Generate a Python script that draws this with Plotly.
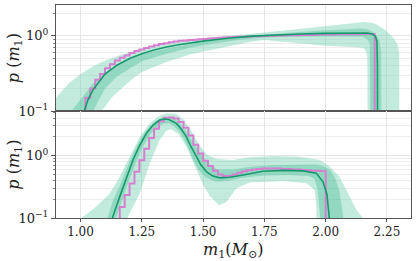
import numpy as np
import plotly.graph_objects as go
from plotly.subplots import make_subplots

# ---------------- data ----------------
# TOP PANEL ------------------------------------------------------
top_hist_lo, top_hist_w = 1.00, 0.02
top_hist = [0.05, 0.15, 0.20, 0.26, 0.31, 0.37, 0.42, 0.47, 0.51, 0.55,
            0.59, 0.63, 0.66, 0.69, 0.72, 0.75, 0.78, 0.80, 0.82, 0.84,
            0.86, 0.87, 0.88, 0.89, 0.90,
            0.91, 0.92, 0.93, 0.94, 0.95, 0.96, 0.965, 0.97, 0.975, 0.98,
            0.985, 0.99, 0.995, 1.0, 1.0, 1.01, 1.01, 1.02, 1.02, 1.02,
            1.03, 1.03, 1.03, 1.04, 1.04, 1.04, 1.04, 1.05, 1.05, 1.05,
            1.05, 1.05, 1.06, 1.06, 1.06]

top_med_m = [1.00, 1.015, 1.03, 1.05, 1.10, 1.15, 1.20, 1.25, 1.30, 1.35, 1.40,
             1.50, 1.60, 1.70, 1.80, 1.90, 2.00, 2.10, 2.17, 2.19, 2.203,
             2.209, 2.211, 2.212]
top_med_p = [0.07, 0.10, 0.14, 0.19, 0.31, 0.41, 0.50, 0.58, 0.65, 0.71, 0.76,
             0.85, 0.93, 0.99, 1.03, 1.06, 1.08, 1.09, 1.09, 1.06, 0.98,
             0.85, 0.40, 0.02]

top_o_up_m = [0.86, 0.90, 0.95, 1.00, 1.05, 1.10, 1.15, 1.25, 1.35, 1.45, 1.55,
              1.65, 1.75, 1.85, 1.95, 2.05, 2.12, 2.155, 2.185, 2.21, 2.235,
              2.26, 2.28, 2.293, 2.300, 2.301]
top_o_up_p = [0.10, 0.15, 0.23, 0.31, 0.39, 0.47, 0.54, 0.68, 0.80, 0.89, 0.96,
              1.04, 1.12, 1.20, 1.29, 1.40, 1.49, 1.53, 1.51, 1.40, 1.24,
              1.07, 0.90, 0.77, 0.58, 0.02]
top_o_lo_m = [1.086, 1.13, 1.20, 1.25, 1.35, 1.45, 1.53, 1.60, 1.70, 1.75,
              1.80, 1.90, 2.00, 2.10, 2.14, 2.158, 2.166, 2.170, 2.171]
top_o_lo_p = [0.10, 0.155, 0.25, 0.33, 0.45, 0.57, 0.65, 0.73, 0.84, 0.88,
              0.86, 0.79, 0.74, 0.71, 0.70, 0.68, 0.60, 0.52, 0.02]

top_i_up_m = [0.963, 1.01, 1.05, 1.10, 1.16, 1.25, 1.35, 1.45, 1.53, 1.60,
              1.70, 1.75, 1.85, 1.95, 2.05, 2.14, 2.17, 2.193, 2.21, 2.22,
              2.226, 2.228]
top_i_up_p = [0.10, 0.16, 0.23, 0.32, 0.43, 0.57, 0.68, 0.78, 0.85, 0.92,
              1.00, 1.04, 1.10, 1.16, 1.21, 1.25, 1.22, 1.13, 0.98, 0.86,
              0.62, 0.02]
top_i_lo_m = [1.051, 1.10, 1.15, 1.25, 1.35, 1.45, 1.55, 1.65, 1.75, 1.85,
              1.95, 2.05, 2.15, 2.172, 2.18, 2.183, 2.184]
top_i_lo_p = [0.10, 0.20, 0.29, 0.46, 0.58, 0.70, 0.80, 0.89, 0.95, 0.97,
              0.98, 0.98, 0.97, 0.89, 0.78, 0.68, 0.02]

# BOTTOM PANEL ---------------------------------------------------
bot_hist_lo, bot_hist_w = 1.00, 0.02
bot_hist = [0.01, 0.01, 0.01, 0.01, 0.01, 0.01, 0.01, 0.01,
            0.15, 0.233, 0.357, 0.55, 0.84, 1.29, 1.92, 2.70, 3.55, 4.05,
            4.10, 3.95, 3.45, 2.80, 2.10, 1.50, 1.08, 0.83, 0.68, 0.57,
            0.50, 0.47, 0.47, 0.50, 0.53, 0.56, 0.58, 0.60, 0.61, 0.62,
            0.62, 0.62, 0.62, 0.61, 0.61, 0.60, 0.60, 0.59, 0.58, 0.57,
            0.57, 0.56]

bot_med_m = [1.10, 1.13, 1.16, 1.188, 1.214, 1.242, 1.269, 1.296, 1.323,
             1.344, 1.36, 1.391, 1.41, 1.432, 1.45, 1.473, 1.49, 1.514, 1.54,
             1.568, 1.609, 1.663, 1.744, 1.826, 1.907, 1.962, 1.989, 2.005,
             2.019, 2.025]
bot_med_p = [0.06, 0.10, 0.22, 0.46, 0.85, 1.48, 2.28, 3.09, 3.72,
             3.86, 3.80, 3.29, 2.70, 2.00, 1.40, 0.96, 0.72, 0.55, 0.47,
             0.44, 0.45, 0.49, 0.56, 0.58, 0.57, 0.52, 0.38, 0.24,
             0.10, 0.04]

bot_o_up_m = [0.98, 1.004, 1.065, 1.12, 1.16, 1.20, 1.242, 1.283, 1.323,
              1.35, 1.39, 1.42, 1.446, 1.486, 1.514, 1.554, 1.62, 1.69,
              1.785, 1.894, 1.976, 2.016, 2.057, 2.098, 2.125, 2.152, 2.17]
bot_o_up_p = [0.07, 0.10, 0.153, 0.25, 0.46, 0.96, 2.00, 3.29, 4.40,
              4.75, 4.70, 3.80, 2.74, 1.45, 1.05, 0.88, 0.85, 0.94,
              0.99, 0.96, 0.85, 0.67, 0.46, 0.22, 0.136, 0.10, 0.07]
bot_o_lo_m = [1.185, 1.242, 1.283, 1.323, 1.35, 1.37, 1.40, 1.432, 1.473,
              1.50, 1.53, 1.565, 1.595, 1.636, 1.69, 1.826, 1.921, 1.955,
              1.962, 1.964]
bot_o_lo_p = [0.09, 0.25, 0.76, 1.78, 2.50, 2.65, 2.20, 1.39, 0.59,
              0.34, 0.22, 0.16, 0.18, 0.30, 0.37, 0.39, 0.36, 0.28,
              0.16, 0.04]

bot_i_up_m = [1.08, 1.11, 1.13, 1.16, 1.19, 1.22, 1.25, 1.28, 1.31, 1.34,
              1.37, 1.40, 1.43, 1.46, 1.49, 1.52, 1.56, 1.62, 1.70, 1.80,
              1.90, 1.96, 1.99, 2.02, 2.04, 2.055, 2.065, 2.072, 2.075]
bot_i_up_p = [0.07, 0.10, 0.18, 0.33, 0.65, 1.20, 2.00, 2.90, 3.70, 4.20,
              4.10, 3.50, 2.50, 1.60, 1.05, 0.75, 0.60, 0.60, 0.67, 0.71,
              0.72, 0.72, 0.68, 0.58, 0.42, 0.28, 0.16, 0.10, 0.04]
bot_i_lo_m = [1.145, 1.175, 1.20, 1.23, 1.255, 1.285, 1.31, 1.34, 1.36,
              1.38, 1.40, 1.42, 1.44, 1.46, 1.48, 1.51, 1.55, 1.60, 1.66,
              1.75, 1.85, 1.93, 1.955, 1.967, 1.974, 1.978, 1.98]
bot_i_lo_p = [0.10, 0.22, 0.42, 0.85, 1.40, 2.20, 2.80, 3.25, 3.30,
              3.00, 2.50, 1.90, 1.30, 0.85, 0.60, 0.45, 0.38, 0.39, 0.44,
              0.48, 0.49, 0.47, 0.42, 0.28, 0.15, 0.10, 0.04]

x_ticks = [1.00, 1.25, 1.50, 1.75, 2.00, 2.25]
x_ticklabels = ["1.00", "1.25", "1.50", "1.75", "2.00", "2.25"]
y_ticks = [0.1, 1]
y_ticklabels = ["10<sup>−1</sup>", "10<sup>0</sup>"]
y_minor = [0.2, 0.3, 0.4, 0.5, 0.6, 0.7, 0.8, 0.9, 2, 3, 4, 5]

# ---------------- styles ----------------
C_OUT = "rgba(102,204,170,0.40)"
C_IN = "rgba(60,180,140,0.35)"
C_MED = "#17996e"
C_HIST = "#d67ed0"
FONT = "DejaVu Serif"
TXT = "#222222"

fig = make_subplots(rows=2, cols=1, shared_xaxes=True, vertical_spacing=0.0)


def band(row, um, up, lm, lp, color):
    fig.add_trace(go.Scatter(x=list(um) + list(lm)[::-1],
                             y=list(up) + list(lp)[::-1],
                             mode="lines", line=dict(width=0),
                             fill="toself", fillcolor=color,
                             hoverinfo="skip", showlegend=False),
                  row=row, col=1)


def hist(row, lo, w, vals):
    edges = [round(lo + w * k, 4) for k in range(len(vals) + 1)]
    fig.add_trace(go.Scatter(x=edges, y=list(vals) + [0.001],
                             mode="lines", line=dict(shape="hv", color=C_HIST, width=2),
                             showlegend=False), row=row, col=1)


band(1, top_o_up_m, top_o_up_p, top_o_lo_m, top_o_lo_p, C_OUT)
band(1, top_i_up_m, top_i_up_p, top_i_lo_m, top_i_lo_p, C_IN)
hist(1, top_hist_lo, top_hist_w, top_hist)
fig.add_trace(go.Scatter(x=top_med_m, y=top_med_p, mode="lines",
                         line=dict(color=C_MED, width=1.6), showlegend=False), row=1, col=1)

band(2, bot_o_up_m, bot_o_up_p, bot_o_lo_m, bot_o_lo_p, C_OUT)
band(2, bot_i_up_m, bot_i_up_p, bot_i_lo_m, bot_i_lo_p, C_IN)
hist(2, bot_hist_lo, bot_hist_w, bot_hist)
fig.add_trace(go.Scatter(x=bot_med_m, y=bot_med_p, mode="lines",
                         line=dict(color=C_MED, width=1.6), showlegend=False), row=2, col=1)

axis_common = dict(showline=True, linecolor="#555555", linewidth=1, mirror=True,
                   gridcolor="#e6e6e6", gridwidth=1, zeroline=False, automargin=False)

fig.update_xaxes(range=[0.9, 2.348], tickvals=x_ticks, ticktext=x_ticklabels,
                 ticks="outside", ticklen=3, tickcolor="#555555",
                 tickfont=dict(family=FONT, size=12, color=TXT), **axis_common)
fig.update_xaxes(showticklabels=False, ticks="", row=1, col=1)

ycommon = dict(type="log", tickvals=y_ticks, ticktext=y_ticklabels,
               ticks="outside", ticklen=4, tickcolor="#555555",
               tickfont=dict(family=FONT, size=13, color=TXT),
               minor=dict(ticks="outside", ticklen=2, tickcolor="#888888",
                          showgrid=True, gridcolor="#eeeeee", tickvals=y_minor),
               **axis_common)
fig.update_yaxes(range=[-1, 0.41], row=1, col=1, **ycommon)
fig.update_yaxes(range=[-1, 0.714], row=2, col=1, **ycommon)

fig.update_layout(width=416, height=261, margin=dict(l=56, r=5, t=5, b=43),
                  plot_bgcolor="white", paper_bgcolor="white", showlegend=False)
fig.layout.yaxis.domain = [0.502, 1.0]
fig.layout.yaxis2.domain = [0.0, 0.502]

title_font = dict(family=FONT, size=16, color=TXT)
ytitle = "<i>p</i> (<i>m</i><sub>1</sub>)"
for yc in (0.751, 0.251):
    fig.add_annotation(text=ytitle, xref="paper", yref="paper", x=-0.118, y=yc,
                       xanchor="center", yanchor="middle", textangle=-90,
                       showarrow=False, font=title_font)
fig.add_annotation(text="<i>m</i><sub>1</sub>(<i>M</i><sub>⊙</sub>)", xref="paper", yref="paper",
                   x=0.5, y=-0.1, xanchor="center", yanchor="top", borderpad=0,
                   showarrow=False, font=title_font)

fig.write_html("out.html", config={"displayModeBar": False},
               post_script="document.body.style.margin='0';document.body.style.padding='0';")
